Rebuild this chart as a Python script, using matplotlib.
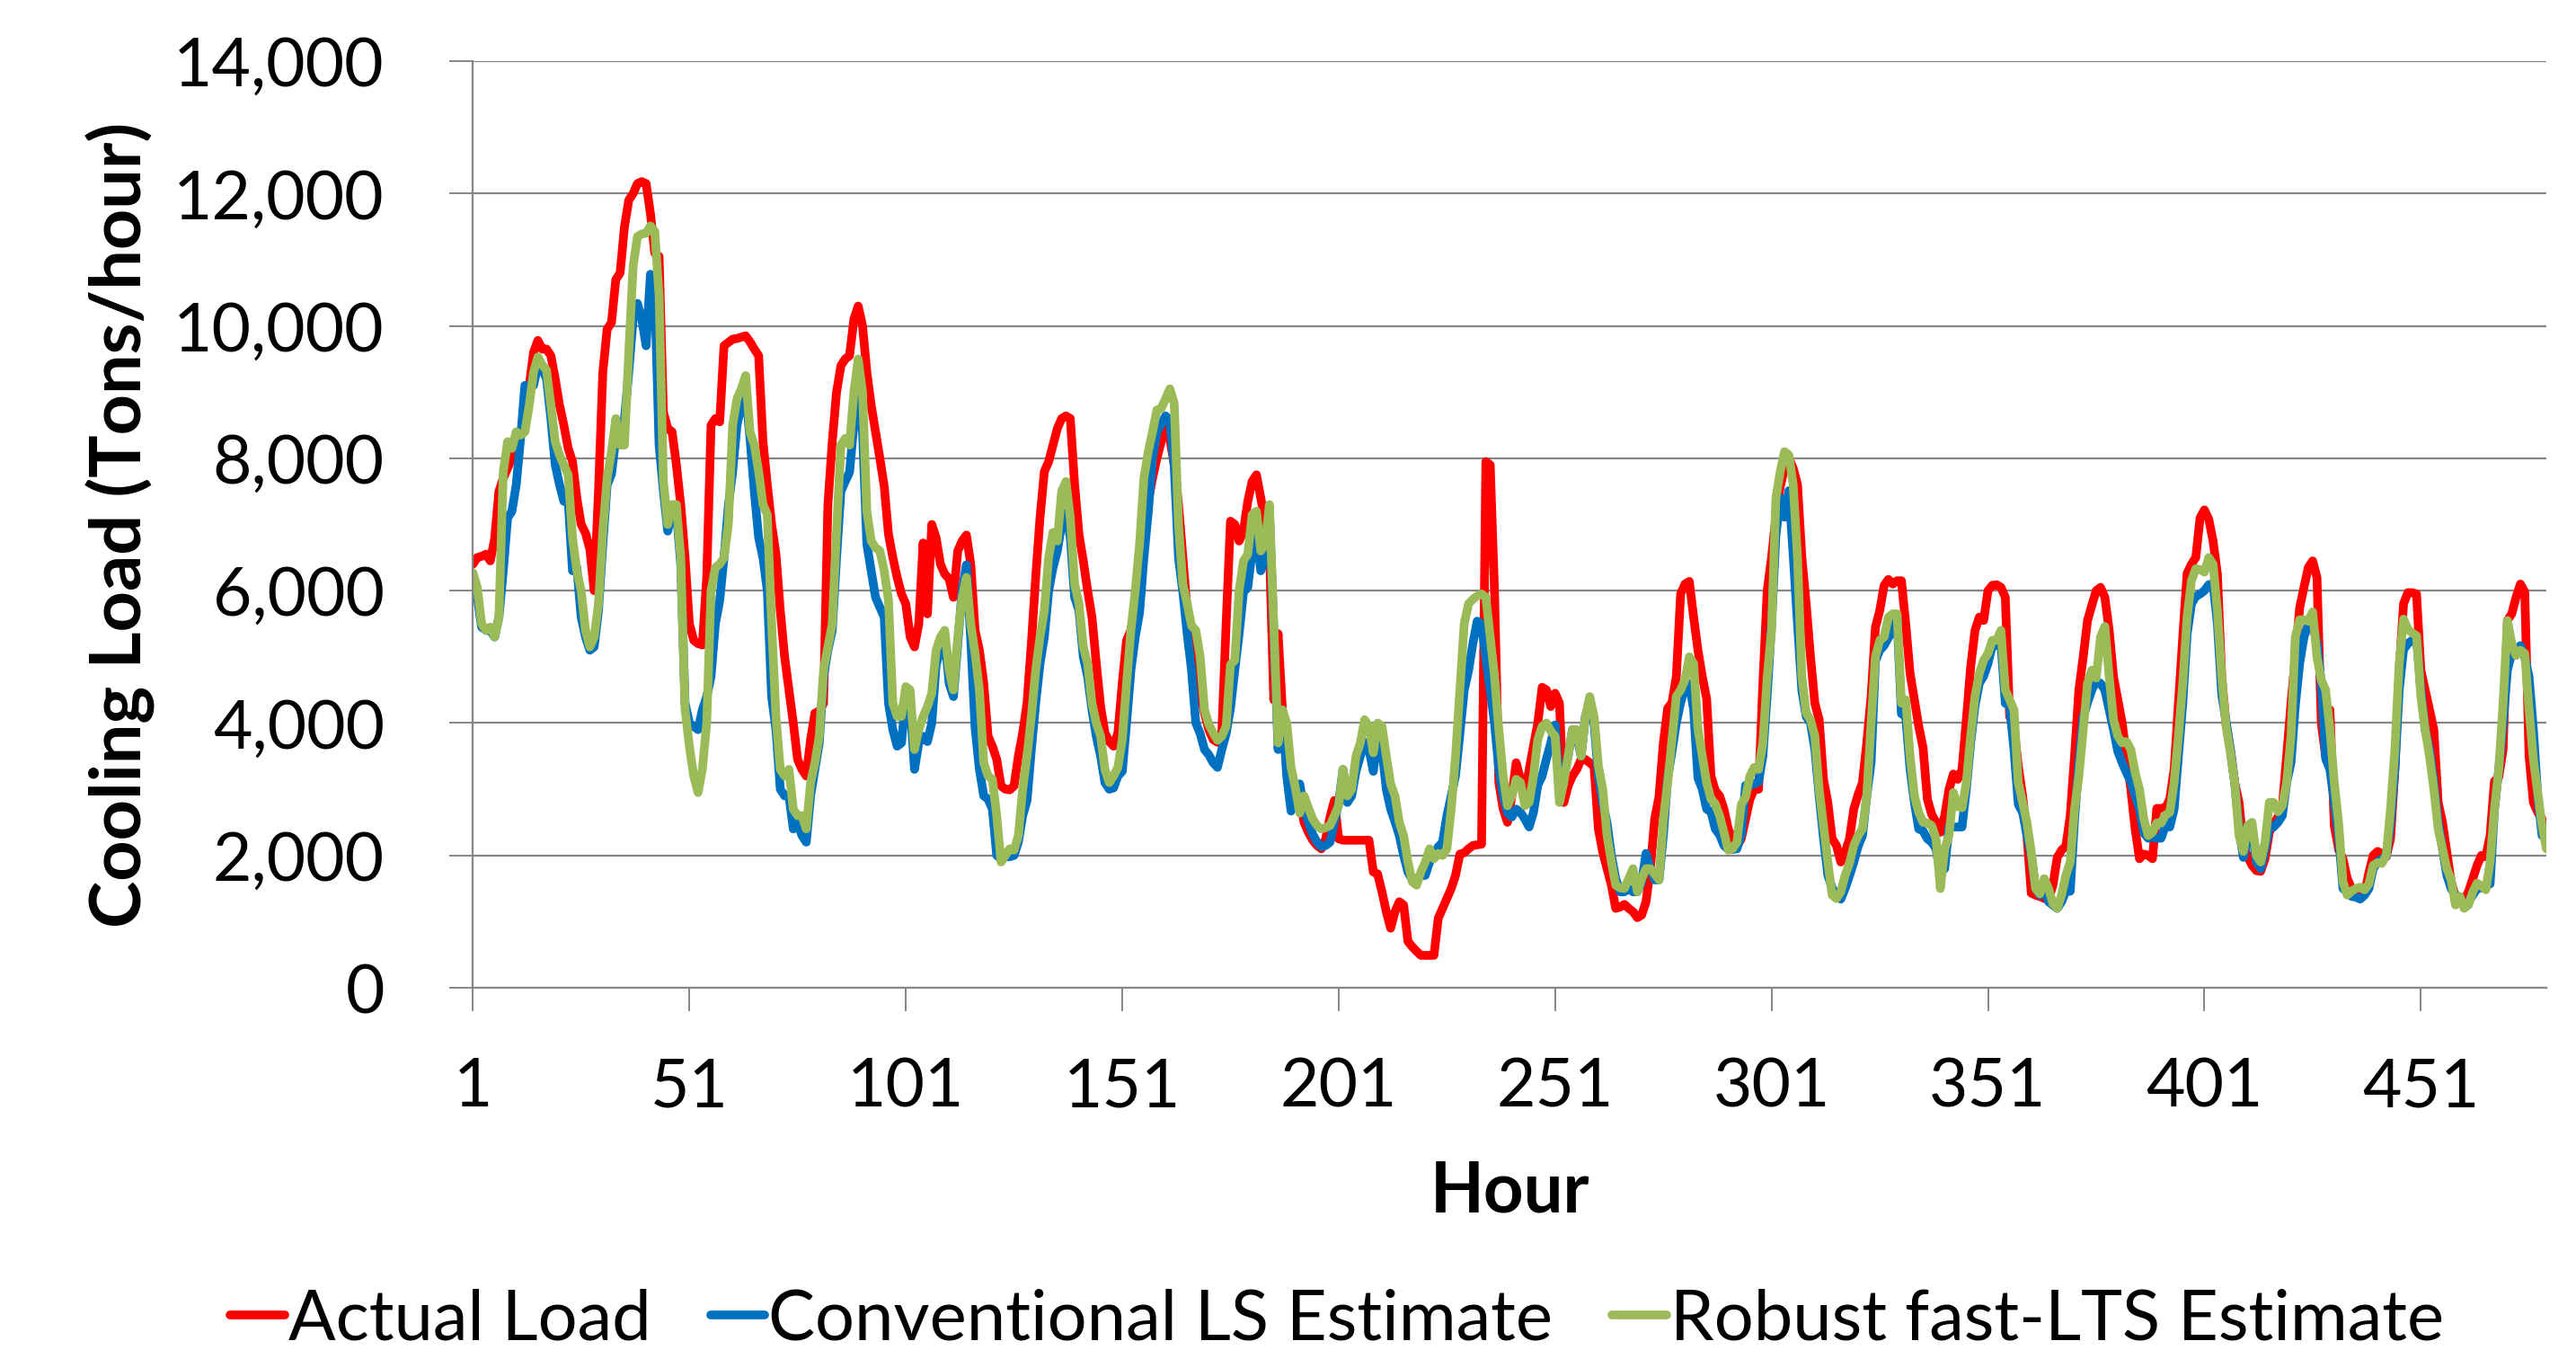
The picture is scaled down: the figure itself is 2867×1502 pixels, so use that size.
import matplotlib
matplotlib.use("Agg")
import matplotlib.pyplot as plt
from matplotlib.ticker import FuncFormatter
import numpy as np

plt.rcParams['font.family'] = ['Lato', 'DejaVu Sans']

# hourly values (tons/hour), hours 1..480
actual_load = [
    6400, 6500, 6520, 6550, 6450, 6780, 7500, 7700, 7850, 8000,
    8200, 8350, 8700, 9100, 9600, 9780, 9650, 9650, 9550, 9200,
    8800, 8500, 8150, 7950, 7400, 7000, 6870, 6630, 6000, 7500,
    9300, 9950, 10050, 10700, 10800, 11500, 11900, 12000, 12150, 12180,
    12150, 11700, 11100, 11050, 8700, 8450, 8400, 7900, 7300, 6500,
    5500, 5250, 5200, 5180, 6200, 8500, 8600, 8550, 9700, 9750,
    9800, 9810, 9830, 9850, 9760, 9650, 9550, 8250, 7600, 7000,
    6550, 5700, 5000, 4500, 4000, 3450, 3300, 3200, 3750, 4150,
    4180, 4300, 7300, 8250, 9000, 9400, 9500, 9550, 10100, 10300,
    10000, 9300, 8800, 8400, 8000, 7580, 6850, 6500, 6200, 5950,
    5800, 5300, 5150, 5500, 6720, 5650, 7000, 6800, 6400, 6250,
    6180, 5900, 6600, 6750, 6840, 6400, 5400, 5100, 4600, 3800,
    3650, 3450, 3050, 3000, 2990, 3050, 3500, 3850, 4300, 5200,
    6200, 7100, 7800, 7950, 8200, 8450, 8600, 8640, 8600, 7600,
    6850, 6450, 6000, 5600, 4900, 4250, 3850, 3720, 3650, 3850,
    4600, 5250, 5400, 5800, 6450, 6900, 7350, 7700, 8000, 8250,
    8450, 8300, 7900, 7300, 6500, 5700, 5350, 4900, 4500, 4150,
    3900, 3750, 3710, 3850, 5500, 7050, 7000, 6750, 6900, 7350,
    7650, 7750, 7400, 7050, 6650, 4350, 5350, 4200, 3300, 2830,
    2870, 2890, 2500, 2350, 2230, 2150, 2100, 2250, 2580, 2830,
    2250, 2230, 2230, 2230, 2230, 2230, 2230, 2230, 1750, 1720,
    1450, 1150, 900, 1150, 1300, 1250, 700, 620, 550, 490,
    490, 490, 490, 1050, 1200, 1350, 1500, 1700, 2020, 2040,
    2100, 2150, 2160, 2170, 7950, 7900, 6000, 3100, 2700, 2500,
    2900, 3400, 3150, 2900, 3300, 3650, 4000, 4540, 4500, 4250,
    4450, 4300, 2800, 3050, 3200, 3300, 3450, 3450, 3400, 3340,
    2400, 2050, 1800, 1550, 1200, 1220, 1260, 1200, 1150, 1060,
    1100, 1300, 1800, 2550, 2890, 3700, 4220, 4310, 4700, 5950,
    6100, 6140, 5600, 5100, 4700, 4370, 3200, 2980, 2900, 2700,
    2400, 2250, 2140, 2250, 2550, 2850, 3000, 3000, 4600, 6000,
    6500, 7110, 7570, 7850, 8000, 7850, 7600, 6500, 5800, 5000,
    4300, 4050, 3150, 2800, 2250, 2150, 1900, 2050, 2250, 2700,
    2920, 3100, 3700, 4400, 5450, 5700, 6080, 6170, 6100, 6150,
    6150, 5500, 4750, 4350, 3950, 3630, 2850, 2620, 2500, 2350,
    2600, 3000, 3230, 3150, 3300, 4050, 4850, 5400, 5600, 5550,
    6000, 6080, 6090, 6050, 5900, 4100, 3950, 3350, 2900, 2300,
    1430, 1400, 1380, 1350, 1340, 1550, 1970, 2080, 2140, 2600,
    3500, 4500, 5000, 5550, 5780, 6000, 6050, 5900, 5400, 4700,
    4350, 4000, 3500, 3000, 2400, 1950, 2020, 2000, 1950, 2710,
    2710, 2720, 2850, 3300, 4300, 5300, 6260, 6400, 6500, 7100,
    7220, 7080, 6750, 6250, 4700, 3980, 3600, 3100, 2800, 2150,
    1980, 1850, 1770, 1760, 1950, 2350, 2480, 2580, 2740, 3500,
    4300, 5000, 5740, 6050, 6350, 6450, 6200, 4000, 3500, 4200,
    2450, 2090, 1950, 1650, 1500, 1450, 1420, 1420, 1740, 2000,
    2060, 2030, 1980, 2250, 3300, 4800, 5800, 5970, 5970, 5950,
    4800, 4500, 4200, 3900, 2800, 2500, 2050, 1600, 1380, 1300,
    1330, 1450, 1650, 1850, 2000, 1980, 2300, 3120, 3180, 3600,
    5550, 5650, 5900, 6100, 5980, 3500, 2800, 2650, 2550, 2200,
]

ls_estimate = [
    6250, 5900, 5450, 5400, 5400, 5300, 5600, 6300, 7100, 7200,
    7600, 8300, 9100, 9100, 9100, 9400, 9350, 9200, 8600, 7900,
    7600, 7350, 7350, 6300, 6350, 5600, 5300, 5100, 5150, 5700,
    6700, 7600, 7760, 8300, 8200, 8600, 9300, 10100, 10340, 10100,
    9700, 10780, 10500, 8200, 7500, 6900, 7200, 7200, 6400, 4300,
    4000, 3950, 3900, 4200, 4400, 4700, 5500, 5850, 6500, 7280,
    7800, 8500, 8800, 9000, 8300, 7500, 6800, 6500, 6000, 4400,
    3900, 3000, 2900, 2900, 2400, 2500, 2300, 2200, 2900, 3300,
    3700, 4700, 5100, 5400, 6500, 7500, 7650, 7790, 8500, 8900,
    8400, 6700, 6300, 5900, 5750, 5600, 4300, 3900, 3650, 3700,
    4400, 4300, 3300, 3700, 3800, 3720, 4000, 4880, 5100, 5300,
    4600, 4400, 5200, 6000, 6390, 5260, 3930, 3300, 2900, 2850,
    2700, 2000, 1950, 1980, 1980, 2000, 2200, 2600, 2830, 3600,
    4300, 4900, 5300, 6000, 6350, 6600, 7000, 7180, 6800, 5900,
    5700, 5000, 4700, 4200, 3800, 3500, 3100, 3000, 3020, 3200,
    3270, 4000, 4800, 5300, 5670, 6500, 7180, 8000, 8400, 8510,
    8640, 8570, 7880, 6500, 5980, 5350, 4800, 4000, 3840, 3600,
    3520, 3400, 3330, 3600, 3840, 4220, 4800, 5350, 5980, 6050,
    6600, 6870, 6300, 6500, 7200, 5400, 3600, 4200, 3200, 2670,
    2900, 3080, 2700, 2500, 2320, 2200, 2130, 2150, 2200, 2500,
    2800, 3300, 2800, 2900, 3270, 3500, 3710, 3600, 3270, 3800,
    3600, 3000, 2700, 2510, 2300, 2000, 1750, 1630, 1650, 1690,
    1700, 1900, 2000, 2130, 2200, 2600, 2900, 3210, 3840, 4500,
    4790, 5200, 5540, 5500, 4980, 4500, 4000, 3300, 2900, 2640,
    2580, 2700, 2650, 2550, 2430, 2650, 3060, 3200, 3460, 3700,
    3970, 2900, 3230, 3500, 3900, 3800, 3500, 4100, 4300, 4000,
    3200, 2800, 2490, 2000, 1650, 1450, 1450, 1500, 1450, 1450,
    1600, 2030, 1800, 1630, 1630, 2300, 3170, 3570, 4000, 4310,
    4540, 4600, 4200, 3170, 3000, 2700, 2660, 2400, 2310, 2150,
    2090, 2090, 2100, 2310, 3060, 3060, 3080, 3110, 3500, 4430,
    5500, 6830, 7400, 7110, 7510, 6540, 5500, 4490, 4100, 4000,
    3600, 2900, 2260, 1700, 1510, 1400, 1340, 1500, 1690, 1900,
    2140, 2300, 2900, 3400, 4940, 5100, 5170, 5290, 5400, 5600,
    4140, 4100, 3300, 2800, 2400, 2370, 2250, 2200, 2100, 1740,
    1800, 2430, 2430, 2430, 2430, 3000, 3700, 4260, 4600, 4710,
    4900, 5170, 5170, 5200, 4300, 4260, 3600, 2770, 2650, 2300,
    2000, 1500, 1400, 1500, 1300, 1250, 1200, 1300, 1460, 1460,
    2540, 3400, 4090, 4310, 4500, 4630, 4600, 4500, 4200, 3900,
    3570, 3400, 3250, 3110, 2900, 2700, 2340, 2260, 2280, 2260,
    2260, 2450, 2430, 2700, 3500, 4300, 5340, 5800, 5910, 5950,
    6000, 6090, 6100, 5500, 4430, 4030, 3600, 3100, 2400, 1970,
    2300, 2400, 1900, 1800, 2100, 2430, 2430, 2500, 2600, 3100,
    3400, 4260, 4900, 5300, 5490, 5500, 5200, 4600, 3460, 3300,
    2800, 2300, 1500, 1450, 1380, 1370, 1340, 1400, 1500, 1800,
    1900, 1950, 1980, 2500, 3300, 4500, 5110, 5200, 5250, 5290,
    4500, 3900, 3600, 3100, 2500, 2100, 1700, 1500, 1400, 1300,
    1250, 1300, 1400, 1500, 1510, 1540, 1570, 2700, 3300, 4000,
    4800, 5060, 5100, 5170, 5000, 4700, 3900, 2900, 2300, 2310,
]

lts_estimate = [
    6270, 6050, 5500, 5400, 5450, 5300, 5600, 7800, 8250, 8150,
    8400, 8350, 8400, 8800, 9300, 9530, 9410, 9330, 8800, 8250,
    8050, 7900, 7750, 6800, 6300, 6000, 5400, 5150, 5300, 5800,
    6900, 7700, 8100, 8600, 8200, 8200, 9600, 10900, 11350, 11390,
    11400, 11510, 11430, 10450, 7650, 7000, 7300, 7300, 6500, 4200,
    3650, 3200, 2950, 3300, 4000, 6000, 6350, 6400, 6500, 7000,
    8500, 8900, 9050, 9250, 8400, 8200, 7800, 7300, 7150, 5500,
    4100, 3300, 3200, 3300, 2700, 2600, 2600, 2400, 3100, 3400,
    3800, 4800, 5150, 5500, 6900, 8200, 8300, 8200, 9000, 9500,
    9000, 7200, 6750, 6650, 6600, 6300, 5850, 4300, 4100, 4100,
    4550, 4500, 3600, 3900, 4100, 4250, 4450, 5100, 5300, 5400,
    4800, 4500, 5300, 5900, 6200, 5500, 5050, 4500, 3400, 3200,
    3150, 2600, 1900, 2000, 2100, 2080, 2300, 3000, 3500, 4100,
    4800, 5300, 5700, 6500, 6880, 6750, 7500, 7650, 7100, 6100,
    5800, 5150, 4900, 4300, 4000, 3800, 3300, 3100, 3200, 3330,
    3750, 4600, 5400, 6000, 6700, 7700, 8100, 8400, 8730, 8750,
    8900, 9050, 8830, 7000, 6100, 5800, 5470, 5400, 5000, 4200,
    3980, 3850, 3740, 3800, 3950, 4880, 4950, 6000, 6450, 6550,
    7150, 7200, 6600, 6700, 7300, 5500, 3700, 4200, 4000, 3330,
    3020, 2640, 2900, 2720, 2550, 2450, 2400, 2420, 2450, 2600,
    2750, 3300, 2900, 3000, 3500, 3700, 4050, 3950, 3550, 4000,
    3950, 3500, 3080, 2900, 2500, 2300, 1900, 1600, 1550, 1750,
    1900, 2100, 1950, 2030, 2000, 2100, 2700, 3500, 4500, 5500,
    5800, 5870, 5920, 5950, 5900, 5300, 4700, 3900, 3200, 2750,
    2900, 3150, 3100, 2750, 2800, 3200, 3750, 3950, 4000, 3880,
    3800, 2800, 3100, 3500, 3900, 3900, 3500, 4100, 4400, 4100,
    3350, 3000, 2300, 1900, 1550, 1510, 1500, 1650, 1800, 1450,
    1650, 1800, 1800, 1720, 1630, 2540, 3100, 3750, 4400, 4500,
    4650, 5000, 4900, 3910, 3500, 3100, 2850, 2780, 2600, 2350,
    2080, 2100, 2200, 2770, 2880, 3200, 3330, 3300, 3700, 4700,
    5400, 7400, 7800, 8100, 8050, 7600, 6500, 4700, 4150, 4050,
    3800, 3000, 2450, 1900, 1400, 1350, 1450, 1700, 1880, 2150,
    2300, 2400, 2900, 4000, 5000, 5250, 5300, 5600, 5650, 5650,
    4300, 4350, 3500, 2900, 2650, 2500, 2490, 2450, 2250, 1500,
    2100, 2300, 2950, 2740, 2720, 3100, 3800, 4400, 4750, 4950,
    5050, 5250, 5250, 5400, 4500, 4350, 4200, 3100, 2800, 2500,
    2050, 1500, 1420, 1650, 1500, 1270, 1200, 1400, 1700, 1900,
    2700, 3200, 3900, 4600, 4800, 4680, 5300, 5460, 4700, 4050,
    3800, 3700, 3720, 3600, 3250, 3000, 2550, 2300, 2350, 2490,
    2490, 2610, 2650, 3100, 3800, 4600, 5600, 6150, 6330, 6320,
    6280, 6500, 6400, 5700, 4700, 3950, 3550, 3100, 2300, 2060,
    2450, 2500, 2000, 1900, 2200, 2800, 2800, 2660, 2750, 3100,
    3800, 5300, 5560, 5560, 5540, 5680, 5000, 4650, 4500, 3900,
    3100, 2500, 1600, 1400, 1460, 1500, 1520, 1480, 1570, 1850,
    1890, 1880, 2000, 2700, 3600, 4900, 5570, 5420, 5360, 5320,
    4400, 3900, 3500, 3000, 2400, 2100, 1800, 1630, 1250, 1380,
    1200, 1250, 1450, 1580, 1540, 1480, 1900, 2700, 3300, 4300,
    5550, 5200, 5020, 5100, 5050, 4200, 3450, 2950, 2450, 2100,
]

hours = list(range(1, len(actual_load) + 1))
series_names = ["Actual Load", "Conventional LS Estimate", "Robust fast-LTS Estimate"]
series_colors = ["#FF0000", "#0070C0", "#9BBB59"]
x_ticks = [1, 51, 101, 151, 201, 251, 301, 351, 401, 451]
y_ticks = [0, 2000, 4000, 6000, 8000, 10000, 12000, 14000]

grey = "#868686"

fig = plt.figure(figsize=(28.67, 15.02), dpi=100)
ax = fig.add_axes([0.1836, 0.2683, 0.8049, 0.6864])

for vals, name, col in zip([actual_load, ls_estimate, lts_estimate], series_names, series_colors):
    ax.plot(hours, vals, color=col, lw=7, label=name,
            solid_joinstyle='round', solid_capstyle='round')

ax.set_xlim(1, 480)
ax.set_ylim(0, 14000)
ax.set_xticks(x_ticks)
ax.set_yticks(y_ticks)
ax.yaxis.set_major_formatter(FuncFormatter(lambda v, p: f"{v:,.0f}"))

ax.grid(axis='y', color=grey, lw=1.6)
ax.set_axisbelow(True)
for s in ['top', 'right']:
    ax.spines[s].set_visible(False)
for s in ['left', 'bottom']:
    ax.spines[s].set_color(grey)
    ax.spines[s].set_linewidth(1.6)

ax.tick_params(axis='both', direction='out', length=19, width=1.4, color=grey,
               labelsize=54)
ax.tick_params(axis='y', pad=52)
ax.tick_params(axis='x', pad=36)

ax.set_ylabel("Cooling Load (Tons/hour)", fontsize=57, fontweight='bold')
ax.yaxis.set_label_coords(-0.153, 0.5)
ax.set_xlabel("Hour", fontsize=56, fontweight='bold')
ax.xaxis.set_label_coords(0.5, -0.186)

leg = ax.legend(loc='center', bbox_to_anchor=(0.519, 0.022), bbox_transform=fig.transFigure,
                ncol=3, frameon=False, fontsize=56, handlelength=0.78,
                handletextpad=0.05, columnspacing=0.85)

fig.savefig("out.png", dpi=100)
